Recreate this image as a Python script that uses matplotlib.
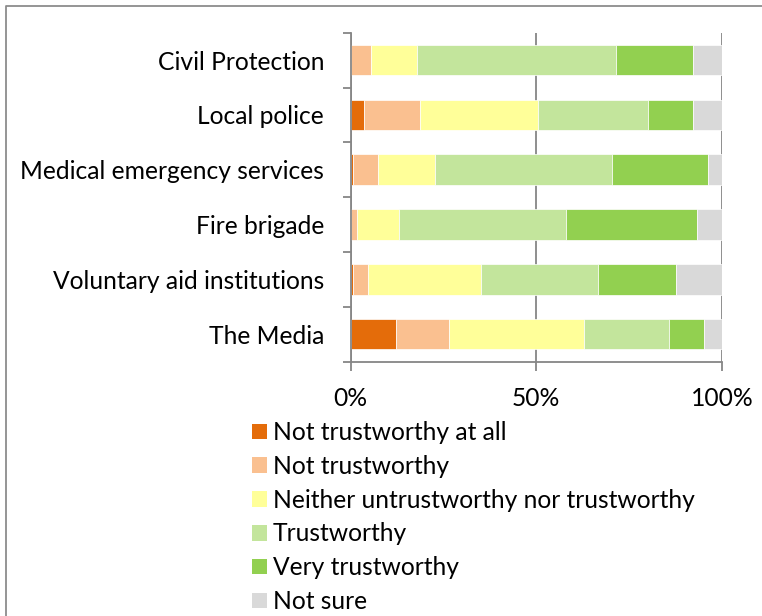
import matplotlib
matplotlib.use("Agg")
import matplotlib.pyplot as plt
from matplotlib.lines import Line2D
from matplotlib.patches import Patch
import numpy as np

plt.rcParams['font.family'] = ['Lato', 'DejaVu Sans']

categories = ["Civil Protection", "Local police", "Medical emergency services",
              "Fire brigade", "Voluntary aid institutions", "The Media"]
series_names = ["Not trustworthy at all", "Not trustworthy",
                "Neither untrustworthy nor trustworthy", "Trustworthy",
                "Very trustworthy", "Not sure"]
not_at_all = [0.0, 3.6, 0.6, 0.0, 0.6, 12.2]
not_trust = [5.5, 15.2, 6.9, 1.7, 4.0, 14.3]
neither = [12.5, 31.6, 15.2, 11.4, 30.5, 36.4]
trust = [53.5, 29.6, 47.8, 45.0, 31.4, 22.9]
very = [20.8, 12.3, 25.6, 35.2, 21.0, 9.4]
not_sure = [7.7, 7.7, 3.9, 6.7, 12.5, 4.8]
x_ticks = [0, 50, 100]
x_tick_labels = ["0%", "50%", "100%"]

colors = ["#E46C0A", "#FAC090", "#FFFF99", "#C3E59C", "#92D050", "#D9D9D9"]
series = [not_at_all, not_trust, neither, trust, very, not_sure]

FS = 17.7
W, H = 762, 616
fig = plt.figure(figsize=(W / 100, H / 100), dpi=100)
ax = fig.add_axes([350.5 / W, 1 - 361.5 / H, (722 - 350.5) / W, (361.5 - 32.7) / H])

y = np.arange(len(categories))
left = np.zeros(len(categories))
gray = "#868686"
for vals, col, name in zip(series, colors, series_names):
    vals = np.array(vals)
    ax.barh(y, vals, left=left, height=0.56, color=col, edgecolor="white",
            linewidth=0.5, label=name, zorder=3)
    left += vals

ax.set_xlim(0, 100)
ax.set_ylim(len(categories) - 0.5, -0.5)
ax.set_yticks(y)
ax.set_yticklabels(categories, fontsize=FS)
ax.set_yticks(np.arange(len(categories) + 1) - 0.5, minor=True)
ax.tick_params(axis="y", which="major", length=0, pad=19)
ax.tick_params(axis="y", which="minor", length=6, width=1.3, color=gray, direction="out")
ax.set_xticks(x_ticks)
ax.set_xticklabels(x_tick_labels, fontsize=FS)
ax.tick_params(axis="x", length=6.5, width=1.3, color=gray, pad=12)
ax.xaxis.grid(True, color=gray, linewidth=1.3, zorder=0)
for s in ["top", "right"]:
    ax.spines[s].set_visible(False)
for s in ["left", "bottom"]:
    ax.spines[s].set_color(gray)
    ax.spines[s].set_linewidth(1.3)
    ax.spines[s].set_zorder(4)

handles = [Patch(facecolor=c, edgecolor="none") for c in colors]
fig.legend(handles, series_names, loc="upper left",
           bbox_to_anchor=(252 / W, 1 - 421 / H), frameon=False,
           fontsize=FS, handlelength=0.6, handleheight=0.6,
           handletextpad=0.25, labelspacing=0.44, borderpad=0, borderaxespad=0)

fig.add_artist(Line2D([6 / W, 6 / W, 1], [0, 1 - 6 / H, 1 - 6 / H],
                      transform=fig.transFigure, color="#8c8c8c", linewidth=1.3))

fig.savefig("out.png", dpi=100)
